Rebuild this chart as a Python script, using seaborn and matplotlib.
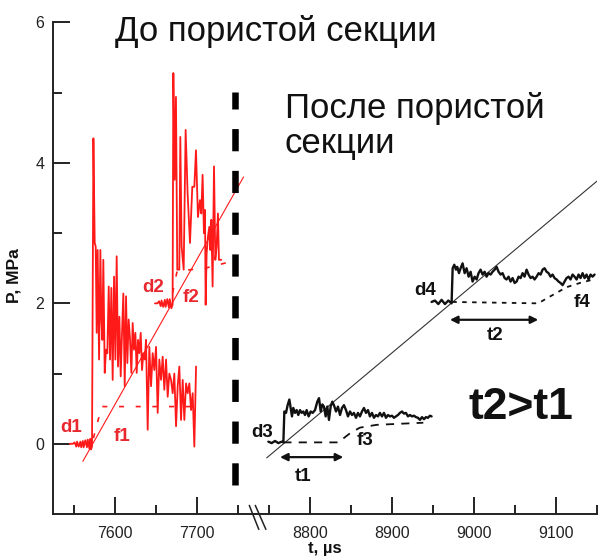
import numpy as np
import pandas as pd
import matplotlib
matplotlib.use("Agg")
import matplotlib.pyplot as plt
from matplotlib.lines import Line2D
import seaborn as sns

sns.set_style("ticks")
plt.rcParams["font.family"] = ["Liberation Sans", "DejaVu Sans"]

# ---- pressure traces before the porous section (red) ----
t_d1 = [7545, 7549, 7551, 7553, 7554, 7556, 7558, 7559, 7561, 7562, 7564, 7566, 7567, 7569,
        7570, 7571, 7572.2, 7573.9, 7575.5, 7576.7, 7577.9, 7579.1, 7580.8, 7582.4, 7583.6,
        7584.8, 7586.0, 7587.7, 7589.3, 7590.9, 7592.6, 7594.2, 7595.8, 7597.4, 7599.1,
        7600.7, 7602.3, 7603.9, 7605.6, 7607.2, 7608.8, 7610.4, 7612.1, 7613.7, 7615.3,
        7616.9, 7618.6, 7620.2, 7621.8, 7623.4, 7625.1, 7626.7, 7628.3, 7629.9, 7631.6,
        7633.2, 7634.8, 7636.5, 7638.1, 7640.1, 7642.1, 7644.2, 7646.2, 7648.2, 7650.3,
        7652.3, 7654.3, 7656.4, 7658.4, 7660.4, 7662.5, 7664.5, 7666.5, 7668.6, 7670.6,
        7672.6, 7674.7, 7676.7, 7678.7, 7680.8, 7682.8, 7684.8, 7686.9, 7688.9, 7690.9,
        7693.0, 7695.0, 7697.0, 7699.1]
p_d1 = [0.00, 0.00, 0.02, -0.04, 0.03, -0.04, 0.03, -0.05, 0.04, -0.05, 0.05, -0.05, 0.06, -0.07,
        0.07, -0.08, -0.04, 4.35, 2.86, 2.81, 1.58, 2.76, 1.20, 2.76, 1.77,
        1.48, 2.62, 1.01, 1.34, 1.29, 2.24, 1.20, 2.22, 0.91, 2.38,
        1.20, 2.67, 1.10, 1.81, 0.96, 1.58, 2.14, 0.82, 2.10, 1.15,
        1.77, 1.48, 1.01, 1.72, 1.34, 1.58, 1.01, 1.48, 1.29, 1.58,
        1.05, 1.29, 1.20, 1.48, 0.20, 1.38, 0.82, 1.29, 1.05, 1.38,
        0.44, 1.20, 0.91, 1.24, 0.77, 1.20, 0.67, 1.00, 0.91, 0.72,
        1.00, 0.25, 0.82, 1.10, 0.34, 0.91, 0.34, 0.86, 0.72, 0.86,
        0.48, 0.72, -0.04, 1.10]

t_d2 = [7649, 7652, 7654, 7656, 7657, 7659, 7661, 7662, 7664, 7666, 7667, 7669, 7670.5,
        7671.4, 7673.0, 7674.6, 7676.2, 7678.7, 7679.9, 7681.5, 7684.0, 7686.4, 7688.8,
        7691.7, 7694.5, 7697.0, 7699.0, 7701.4, 7703.9, 7705.5, 7707.1, 7708.7, 7710.0,
        7710.8, 7712.0, 7713.6, 7715.3, 7716.5, 7717.7, 7719.3, 7721.0, 7722.6, 7724.2,
        7725.8, 7727.0, 7729.9]
p_d2 = [2.00, 2.00, 2.03, 1.96, 2.04, 1.95, 2.05, 1.95, 2.06, 1.94, 2.06, 1.93, 1.98,
        5.28, 3.76, 4.94, 2.48, 2.48, 4.37, 2.81, 2.48, 4.47, 3.57,
        2.86, 3.66, 3.66, 4.18, 3.23, 3.47, 3.28, 3.83, 3.00, 3.33,
        1.98, 2.71, 2.95, 3.09, 2.76, 3.19, 2.24, 3.95, 2.62, 2.81,
        3.28, 2.62, 2.62]

t_f1 = [7573.9, 7584.0, 7691.7]
p_f1 = [0.08, 0.53, 0.53]
t_f2 = [7670.5, 7676.0, 7710.0, 7750.0]
p_f2 = [2.15, 2.46, 2.50, 2.62]
t_fit_red = [7561, 7757]
p_fit_red = [-0.25, 3.80]

# ---- pressure traces after the porous section (black) ----
t_d3 = [8749.2, 8753.2, 8757.3, 8761.4, 8765.4, 8767.5, 8768.7, 8770.7, 8772.7, 8774.8,
        8776.4, 8778.0, 8779.6, 8781.7, 8783.7, 8785.7, 8787.8, 8789.8, 8791.8, 8793.9,
        8795.9, 8798.3, 8800.8, 8803.2, 8806.1, 8808.9, 8811.0, 8813.0, 8815.0, 8817.0,
        8819.1, 8821.1, 8823.1, 8825.2, 8827.2, 8829.2, 8831.7, 8834.1, 8836.6, 8839.0,
        8841.4, 8843.9, 8846.3, 8848.8, 8851.2, 8853.6, 8856.1, 8858.5, 8860.9, 8863.4,
        8865.8, 8868.3, 8870.7, 8873.1, 8875.6, 8878.0, 8880.5, 8882.9, 8885.3, 8887.8,
        8890.2, 8892.7, 8895.1, 8897.5, 8900.0, 8902.4, 8904.8, 8907.3, 8909.7, 8912.2,
        8914.6, 8917.0, 8919.5, 8921.9, 8924.4, 8926.8, 8929.2, 8931.7, 8934.1, 8936.6,
        8939.0, 8941.5, 8943.9, 8946.3, 8948.3]
p_d3 = [0.03, 0.01, 0.04, 0.01, 0.03, 0.02, 0.46, 0.44, 0.55, 0.63,
        0.51, 0.39, 0.51, 0.44, 0.48, 0.41, 0.48, 0.44, 0.46, 0.41,
        0.48, 0.39, 0.46, 0.44, 0.48, 0.60, 0.65, 0.46, 0.56, 0.53,
        0.39, 0.53, 0.34, 0.53, 0.60, 0.55, 0.46, 0.53, 0.41, 0.51,
        0.55, 0.48, 0.39, 0.46, 0.41, 0.44, 0.37, 0.44, 0.39, 0.46,
        0.51, 0.44, 0.48, 0.39, 0.44, 0.37, 0.41, 0.39, 0.44, 0.39,
        0.44, 0.37, 0.41, 0.39, 0.40, 0.37, 0.39, 0.41, 0.44, 0.46,
        0.43, 0.44, 0.39, 0.41, 0.39, 0.40, 0.38, 0.37, 0.34, 0.38,
        0.35, 0.38, 0.37, 0.40, 0.39]

t_d4 = [8948.3, 8952.4, 8956.5, 8960.5, 8964.6, 8968.7, 8972.7, 8974.0, 8976.0, 8978.0,
        8979.6, 8981.7, 8983.7, 8986.1, 8988.6, 8991.0, 8993.5, 8995.9, 8998.3, 9000.8,
        9003.2, 9005.6, 9008.1, 9010.5, 9013.0, 9015.4, 9017.8, 9020.3, 9022.7, 9025.2,
        9027.6, 9030.0, 9032.5, 9034.9, 9037.4, 9039.8, 9042.2, 9044.7, 9047.1, 9049.6,
        9052.0, 9054.4, 9056.9, 9059.3, 9061.7, 9064.2, 9066.6, 9069.1, 9071.5, 9073.9,
        9076.4, 9078.8, 9081.3, 9083.7, 9086.1, 9088.6, 9091.0, 9093.4, 9095.9, 9098.3,
        9100.8, 9103.2, 9105.6, 9108.1, 9110.5, 9112.9, 9115.4, 9117.8, 9120.3, 9122.7,
        9125.2, 9127.6, 9130.0, 9132.5, 9134.9, 9137.3, 9139.8, 9142.2, 9144.7, 9147.1]
p_d4 = [2.02, 2.04, 1.99, 2.05, 1.99, 2.04, 2.00, 2.50, 2.55, 2.48,
        2.52, 2.43, 2.50, 2.57, 2.43, 2.50, 2.38, 2.45, 2.31, 2.38,
        2.34, 2.43, 2.48, 2.41, 2.45, 2.38, 2.43, 2.41, 2.45, 2.48,
        2.52, 2.45, 2.41, 2.43, 2.36, 2.34, 2.38, 2.31, 2.36, 2.29,
        2.31, 2.38, 2.36, 2.43, 2.38, 2.48, 2.41, 2.36, 2.38, 2.34,
        2.38, 2.43, 2.41, 2.48, 2.50, 2.45, 2.43, 2.38, 2.41, 2.36,
        2.34, 2.31, 2.29, 2.26, 2.31, 2.36, 2.38, 2.34, 2.41, 2.38,
        2.34, 2.41, 2.36, 2.43, 2.36, 2.41, 2.34, 2.41, 2.38, 2.41]

t_f3 = [8767.5, 8834.5, 8848.8, 8860.9, 8881.3, 8938.2]
p_f3 = [0.02, 0.02, 0.15, 0.23, 0.27, 0.30]
t_f4 = [8973.5, 9078.4, 9088.6, 9100.8, 9112.9, 9129.2, 9145.5]
p_f4 = [2.02, 2.00, 2.07, 2.15, 2.23, 2.29, 2.34]
t_fit_black = [8747.2, 9150]
p_fit_black = [-0.20, 3.74]

t1_span = [8763.4, 8840.6]
t1_level = -0.19
t2_span = [8970.7, 9078.4]
t2_level = 1.766

boundary_t = 7746.6
boundary_p = [-0.58, 5.015]

left_xlim = (7525, 7771)
right_xlim = (8732.9, 9150.05)
ylim = (-1, 6)

RED = "#ff1a1a"
RED_TXT = "#e8282e"
INK = "#111111"

fig = plt.figure(figsize=(6.01, 5.6), dpi=100)
ax_l = fig.add_axes([0.0887, 0.08214, 0.3356, 0.8777])
ax_r = fig.add_axes([0.4243, 0.08214, 0.5690, 0.8777])


def trace(ax, t, p, color, lw, ls="-"):
    df = pd.DataFrame({"t": t, "P": p})
    sns.lineplot(data=df, x="t", y="P", ax=ax, color=color, lw=lw, linestyle=ls,
                 estimator=None, sort=False, legend=False)


# left panel
trace(ax_l, t_fit_red, p_fit_red, RED, 0.8)
trace(ax_l, t_d1, p_d1, RED, 1.3)
trace(ax_l, t_d2, p_d2, RED, 1.3)
trace(ax_l, t_f1, p_f1, RED, 1.2, (0, (3, 7)))
trace(ax_l, t_f2, p_f2, RED, 1.2, (0, (3, 7)))
ax_l.plot([boundary_t, boundary_t], boundary_p, color="black", lw=4.7,
          linestyle=(0, (3.4, 3.0)), solid_capstyle="butt", dash_capstyle="butt",
          clip_on=False)

# right panel
trace(ax_r, t_fit_black, p_fit_black, "#333333", 0.8)
trace(ax_r, t_d3, p_d3, INK, 1.7)
trace(ax_r, t_d4, p_d4, INK, 1.7)
trace(ax_r, t_f3, p_f3, INK, 1.3, (0, (4.5, 4)))
trace(ax_r, t_f4, p_f4, INK, 1.3, (0, (2.5, 3)))
for span, lvl in [(t1_span, t1_level), (t2_span, t2_level)]:
    ax_r.annotate("", xy=(span[1], lvl), xytext=(span[0], lvl),
                  arrowprops=dict(arrowstyle="<|-|>", color=INK, lw=1.6,
                                  mutation_scale=11, shrinkA=0, shrinkB=0))

lbl = dict(fontsize=13.5, fontweight="bold", ha="center", va="center")
ax_l.text(7547.2, 0.23, "d1", color=RED_TXT, **lbl)
ax_l.text(7608.8, 0.11, "f1", color=RED_TXT, **lbl)
ax_l.text(7646.6, 2.22, "d2", color=RED_TXT, **lbl)
ax_l.text(7692.9, 2.09, "f2", color=RED_TXT, **lbl)
ax_r.text(8741.5, 0.16, "d3", color=INK, **lbl)
ax_r.text(8867.0, 0.04, "f3", color=INK, **lbl)
ax_r.text(8940.2, 2.19, "d4", color=INK, **lbl)
ax_r.text(9131.7, 2.01, "f4", color=INK, **lbl)
ax_r.text(8791.5, -0.46, "t1", color=INK, **lbl)
ax_r.text(9025.6, 1.54, "t2", color=INK, **lbl)
ax_r.text(9057.3, 0.51, "t2>t1", color=INK, fontsize=32, fontweight="bold",
          ha="center", va="center")

# axes styling
for ax, lim in [(ax_l, left_xlim), (ax_r, right_xlim)]:
    ax.set_xlim(*lim)
    ax.set_ylim(*ylim)
    ax.set_xlabel("")
    ax.set_ylabel("")
    ax.patch.set_alpha(0)
    for s in ["top", "right"]:
        ax.spines[s].set_visible(False)
    ax.spines["bottom"].set_linewidth(1.4)
    ax.spines["bottom"].set_color("#222222")
    ax.tick_params(axis="both", which="major", direction="in", length=12, width=1.4,
                   color="#222222", labelsize=11.5, labelcolor="#222222", pad=6.5)
    ax.tick_params(axis="x", which="major", pad=8.5)
    ax.tick_params(axis="both", which="minor", direction="in", length=6.5, width=1.4,
                   color="#222222")

ax_l.spines["left"].set_linewidth(1.4)
ax_l.spines["left"].set_color("#222222")
ax_l.set_xticks([7600, 7700])
ax_l.set_xticks([7550, 7650, 7750], minor=True)
ax_l.set_yticks([0, 2, 4, 6])
ax_l.set_yticks([1, 3, 5], minor=True)

ax_r.spines["left"].set_visible(False)
ax_r.set_xticks([8800, 8900, 9000, 9100])
ax_r.set_xticks([8750, 8850, 8950, 9050, 9150], minor=True)
ax_r.set_yticks([])
ax_r.tick_params(axis="y", which="both", left=False, labelleft=False)

# break marks on the time axis
for x0, x1 in [(249.3, 258.8), (255.3, 265.9)]:
    fig.add_artist(Line2D([x0 / 601, x1 / 601], [1 - 505.4 / 560, 1 - 529.4 / 560],
                          color="#222222", lw=1.1))

fig.text(325 / 601, 1 - 549 / 560, "t, µs", fontsize=12, fontweight="bold",
         ha="center", va="center", color=INK)
fig.text(14 / 601, 1 - 276 / 560, "P, MPa", fontsize=12.5, fontweight="bold",
         ha="center", va="center", rotation=90, color=INK)

fig.text(115 / 601, 1 - 41 / 560, "До пористой секции", fontsize=25,
         ha="left", va="baseline", color=INK)
fig.text(285 / 601, 1 - 118 / 560, "После пористой", fontsize=25,
         ha="left", va="baseline", color=INK)
fig.text(285 / 601, 1 - 153 / 560, "секции", fontsize=25,
         ha="left", va="baseline", color=INK)

fig.savefig("out.png", dpi=100)
